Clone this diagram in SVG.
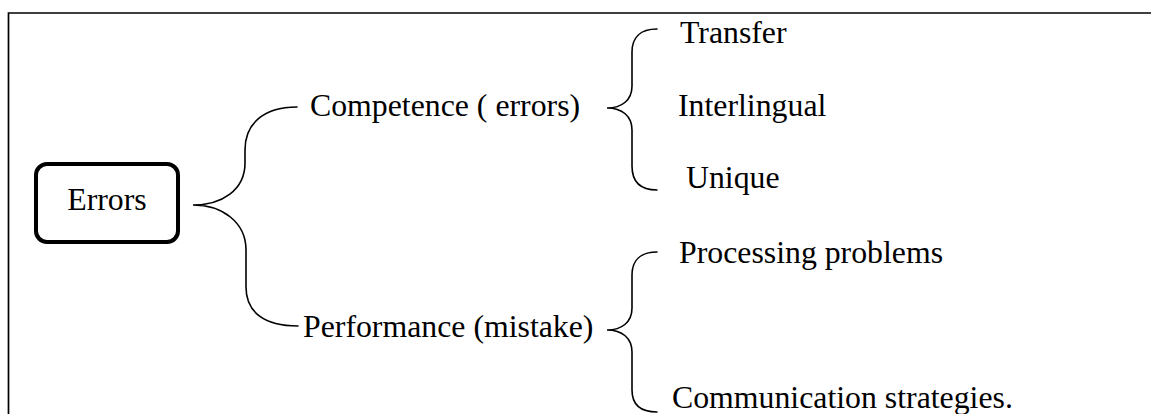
<svg xmlns="http://www.w3.org/2000/svg" width="1151" height="414" viewBox="0 0 1151 414">
<style>
text{font-family:"Liberation Serif","Times New Roman",serif;font-size:31.8px;fill:#000}
.br{fill:none;stroke:#000;stroke-width:1.6;stroke-linecap:round}
</style>
<rect width="1151" height="414" fill="#fff"/>
<path d="M8.5,414 V13 H1151" fill="none" stroke="#000" stroke-width="1.7"/>
<g id="node-errors">
<rect x="36" y="164" width="142" height="78" rx="11" ry="11" fill="#fff" stroke="#000" stroke-width="4"/>
<text x="107" y="210" text-anchor="middle">Errors</text>
</g>
<g id="node-competence"><text x="310" y="116">Competence ( errors)</text></g>
<g id="node-performance"><text x="303" y="337">Performance (mistake)</text></g>
<g id="node-transfer"><text x="680" y="43">Transfer</text></g>
<g id="node-interlingual"><text x="678" y="116">Interlingual</text></g>
<g id="node-unique"><text x="686" y="188">Unique</text></g>
<g id="node-processing"><text x="679" y="263">Processing problems</text></g>
<g id="node-communication"><text x="672" y="408">Communication strategies.</text></g>
<g id="connectors">
<path class="br" d="M297,107 C262,107 245,125 245,150 L245,163 C245,190 222,205 193,205 C222,205 246,222 246,250 L246,287 C246,312 264,326 298,326"/>
<path class="br" d="M657,29 C640,29 632,38 632,52 L632,86 C632,100 622,108 607,108 C622,108 632,116 632,130 L632,166 C632,181 640,190 657,190"/>
<path class="br" d="M657,252 C640,252 632,261 632,275 L632,308 C632,322 622,330 607,330 C622,330 632,338 632,352 L632,390 C632,404 640,412 657,412"/>
</g>
</svg>
